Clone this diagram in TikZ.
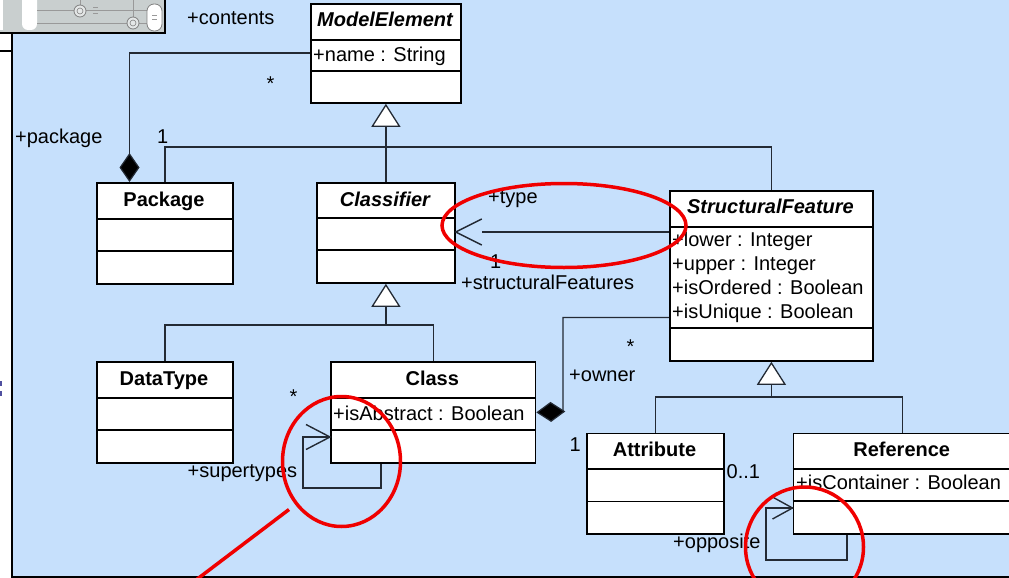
\documentclass[tikz,border=0pt]{standalone}
\usepackage{fontspec}
\setmainfont{Liberation Sans}
\usetikzlibrary{arrows.meta,calc}
\definecolor{bgblue}{RGB}{198,224,252}
\definecolor{lnc}{RGB}{35,42,52}
\definecolor{thumbgray}{RGB}{201,207,207}
\definecolor{redmk}{RGB}{240,0,0}
\definecolor{markblue}{RGB}{80,80,160}
\newcommand\umlfont{\fontsize{20}{24}\selectfont}
\tikzset{
  gentip/.tip={Triangle[fill=white,length=23pt,width=29pt,line width=1.3pt]},
  comptip/.tip={Diamond[fill=black,length=29pt,width=20pt]},
}
\begin{document}
\begin{tikzpicture}[x=1pt,y=-1pt,
  box/.style={draw=black,line width=1.8pt,fill=white,rectangle,inner sep=0pt,anchor=north west},
  sepl/.style={draw=black,line width=1.6pt},
  conn/.style={draw=lnc,line width=1.2pt},
  navarm/.style={draw=lnc,line width=1.4pt,line join=miter},
  txt/.style={inner sep=0pt,font=\umlfont,anchor=base west},
  ttl/.style={inner sep=0pt,font=\umlfont\bfseries,anchor=base},
  ittl/.style={inner sep=0pt,font=\umlfont\bfseries\itshape,anchor=base},
  star/.style={inner sep=0pt,font=\umlfont,anchor=center},
  redmark/.style={draw=redmk,line width=3.5pt},
]
\useasboundingbox (0,0) rectangle (1009,578);
\clip (0,0) rectangle (1009,578);
% background
\fill[white] (0,0) rectangle (1009,578);
\fill[bgblue] (12,0) rectangle (1009,577);
\draw[black,line width=2pt] (12,33) -- (12,577) -- (1010,577);
\draw[black,line width=1.5pt] (0,51) -- (12,51);
\fill[markblue] (0,381) rectangle (2,386);
\fill[markblue] (0,391) rectangle (2,396);
% thumbnail
\fill[thumbgray] (0,0) rectangle (165,33);
\fill[white] (0,-5) rectangle (3,30);
\fill[white,rounded corners=6pt] (22,-10) rectangle (37,30);
\draw[gray!80,line width=0.8pt] (37,10) -- (150,10) (37,23) -- (150,23) (133,0) -- (133,17) (80,0) -- (80,5);
\draw[gray,line width=0.8pt,fill=thumbgray!50] (80,11) circle[radius=6];
\draw[gray,line width=0.6pt] (80,11) circle[radius=3];
\draw[gray,line width=0.8pt,fill=thumbgray!50] (133,23) circle[radius=6];
\draw[gray,line width=0.6pt] (133,23) circle[radius=3];
\draw[gray!80,line width=0.6pt] (93,7) -- (98,7) (93,13) -- (98,13);
\draw[gray,line width=0.8pt,fill=white,rounded corners=7pt] (147,4) rectangle (162,31);
\draw[gray!80,line width=0.6pt] (152,15) -- (157,15) (152,19) -- (157,19);
\draw[black,line width=2pt] (0,33) -- (165,33) -- (165,0);

% ModelElement
\node[box,minimum width=150pt,minimum height=99pt] (me) at (310,3) {};
\draw[sepl] (me.west |- 0,40) -- (me.east |- 0,40) (me.west |- 0,71) -- (me.east |- 0,71);
\node[ittl] (me-t) at (385,27) {ModelElement};
\node[txt] (me-a) at (313,62) {+name : String};

% Package
\node[box,minimum width=136pt,minimum height=101pt] (pkg) at (96,182) {};
\draw[sepl] (pkg.west |- 0,219) -- (pkg.east |- 0,219) (pkg.west |- 0,251) -- (pkg.east |- 0,251);
\node[ttl] (pkg-t) at (164,206) {Package};

% Classifier
\node[box,minimum width=138pt,minimum height=100pt] (cf) at (316,182) {};
\draw[sepl] (cf.west |- 0,218) -- (cf.east |- 0,218) (cf.west |- 0,250) -- (cf.east |- 0,250);
\node[ittl] (cf-t) at (385,206) {Classifier};

% StructuralFeature
\node[box,minimum width=203pt,minimum height=170pt] (sf) at (669,190) {};
\draw[sepl] (sf.west |- 0,227) -- (sf.east |- 0,227) (sf.west |- 0,328) -- (sf.east |- 0,328);
\node[ittl] (sf-t) at (770.5,213) {StructuralFeature};
\node[txt] (sf-a1) at (672,246.5) {+lower : Integer};
\node[txt] (sf-a2) at (672,270.5) {+upper : Integer};
\node[txt] (sf-a3) at (672,294.5) {+isOrdered : Boolean};
\node[txt] (sf-a4) at (672,318.5) {+isUnique : Boolean};

% DataType
\node[box,minimum width=136pt,minimum height=101pt] (dt) at (96,361) {};
\draw[sepl] (dt.west |- 0,398) -- (dt.east |- 0,398) (dt.west |- 0,430) -- (dt.east |- 0,430);
\node[ttl] (dt-t) at (164,385) {DataType};

% Class
\node[box,minimum width=204.5pt,minimum height=101pt] (cls) at (330,361) {};
\draw[sepl] (cls.west |- 0,398) -- (cls.east |- 0,398) (cls.west |- 0,430) -- (cls.east |- 0,430);
\node[ttl] (cls-t) at (432.25,385) {Class};
\node[txt] (cls-a) at (333,420) {+isAbstract : Boolean};

% Attribute
\node[box,minimum width=137pt,minimum height=100.5pt] (attr) at (586,432.5) {};
\draw[sepl] (attr.west |- 0,469) -- (attr.east |- 0,469) (attr.west |- 0,501.5) -- (attr.east |- 0,501.5);
\node[ttl] (attr-t) at (654.5,456) {Attribute};

% Reference
\node[box,minimum width=218.5pt,minimum height=100.5pt] (ref) at (792.5,432.5) {};
\draw[sepl] (ref.west |- 0,469) -- (ref.east |- 0,469) (ref.west |- 0,501) -- (ref.east |- 0,501);
\node[ttl] (ref-t) at (901.75,456) {Reference};
\node[txt] (ref-a) at (796,489) {+isContainer : Boolean};

% generalizations
\draw[conn,-{gentip}] (cf.north) -- (me.south);
\draw[conn] (pkg.north) -- (pkg.north |- 0,147) -- (sf.north |- 0,147) -- (sf.north);
\draw[conn,-{gentip}] (cf.south |- 0,325) -- (cf.south);
\draw[conn] (dt.north) -- (dt.north |- 0,325) -- (cls.north |- 0,325) -- (cls.north);
\draw[conn,-{gentip}] (sf.south |- 0,397) -- (sf.south);
\draw[conn] (attr.north) -- (attr.north |- 0,397) -- (ref.north |- 0,397) -- (ref.north);

% associations
\draw[conn,{comptip}-] (pkg.north -| 129.5,0) -- (129.5,53) -- (me.west |- 0,53);
\draw[conn,{comptip}-] (cls.east) -- (563,411.5) -- (563,317.5) -- (sf.west |- 0,317.5);
% +type navigable end
\coordinate (typetip) at (cf.east |- 0,232);
\draw[conn] (sf.west |- 0,232) -- ($(typetip)+(26,0)$);
\draw[navarm] ($(typetip)+(26,-13)$) -- (typetip) -- ($(typetip)+(26,13)$);
% supertypes self loop
\coordinate (suptip) at (cls.west |- 0,437);
\draw[conn] (cls.south -| 381,0) -- (381,488) -- (303,488) -- (303,437) -- (suptip);
\draw[navarm] ($(suptip)+(-24,-12.5)$) -- (suptip) -- ($(suptip)+(-24,12.5)$);
% opposite self loop
\coordinate (opptip) at (ref.west |- 0,508);
\draw[conn] (ref.south -| 847,0) -- (847,560) -- (766,560) -- (766,508) -- (opptip);
\draw[navarm] ($(opptip)+(-20,-11)$) -- (opptip) -- ($(opptip)+(-20,11)$);

% labels
\node[txt] (l-contents) at (187,24.5) {+contents};
\node[star] (l-star1) at (270.5,84) {*};
\node[txt] (l-package) at (15,143) {+package};
\node[txt] (l-one1) at (157,143) {1};
\node[txt] (l-type) at (488,203) {+type};
\node[txt] (l-one2) at (490,268.5) {1};
\node[txt] (l-sfs) at (461,289) {+structuralFeatures};
\node[star] (l-star2) at (630.5,347) {*};
\node[txt] (l-owner) at (569,381.5) {+owner};
\node[star] (l-star3) at (293.5,397) {*};
\node[txt] (l-super) at (187.5,477) {+supertypes};
\node[txt] (l-one3) at (569.5,451.5) {1};
\node[txt] (l-zo) at (726.5,478) {0..1};
\node[txt] (l-opp) at (673,548.5) {+opposite};

% red annotations
\draw[redmark] (564,225.5) ellipse [x radius=122, y radius=42];
\draw[redmark] (341.5,461.5) ellipse [x radius=59, y radius=65];
\draw[redmark] (804.5,547) ellipse [x radius=59, y radius=60];
\draw[redmark] (289,509.5) -- (196,580);
\end{tikzpicture}
\end{document}
